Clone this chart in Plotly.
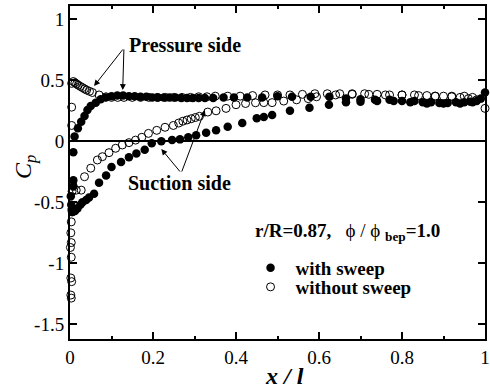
import plotly.graph_objects as go

# with sweep, pressure side (filled)
x_ws_p = [0.008, 0.011, 0.019, 0.027, 0.035, 0.042, 0.05, 0.062, 0.074, 0.086, 0.1, 0.114, 0.128,
          0.142, 0.156, 0.17, 0.184, 0.198, 0.212, 0.226, 0.24, 0.254, 0.268, 0.282, 0.296, 0.31,
          0.325, 0.345, 0.37, 0.395, 0.427, 0.463, 0.5, 0.535, 0.58, 0.625, 0.665, 0.7, 0.735,
          0.77, 0.8, 0.83, 0.85, 0.87, 0.89, 0.91, 0.93, 0.95, 0.965, 0.98, 0.99, 1.0]
y_ws_p = [-0.09, 0.04, 0.107, 0.16, 0.207, 0.256, 0.29, 0.316, 0.344, 0.36, 0.37, 0.375, 0.375,
          0.37, 0.37, 0.365, 0.365, 0.36, 0.36, 0.36, 0.36, 0.36, 0.355, 0.355, 0.355, 0.355,
          0.355, 0.355, 0.36, 0.36, 0.36, 0.36, 0.37, 0.365, 0.365, 0.365, 0.35, 0.345, 0.34,
          0.34, 0.33, 0.33, 0.32, 0.32, 0.315, 0.315, 0.32, 0.32, 0.325, 0.33, 0.35, 0.40]

# with sweep, suction side (filled)
x_ws_s = [0.008, 0.008, 0.002, 0.003, 0.004, 0.005, 0.006, 0.008, 0.012, 0.018, 0.025, 0.03,
          0.039, 0.046, 0.058, 0.07, 0.087, 0.1, 0.123, 0.142, 0.16, 0.18, 0.197, 0.22, 0.246,
          0.265, 0.285, 0.304, 0.328, 0.352, 0.38, 0.415, 0.45, 0.467, 0.487, 0.53, 0.577, 0.624,
          0.665, 0.70, 0.74, 0.78, 0.82, 0.86, 0.9, 0.94, 0.97]
y_ws_s = [-0.32, -0.37, -0.45, -0.52, -0.56, -0.58, -0.58, -0.57, -0.57, -0.55, -0.52, -0.5,
          -0.48, -0.46, -0.43, -0.34, -0.28, -0.21, -0.17, -0.13, -0.10, -0.07, -0.016, 0.0, 0.01,
          0.016, 0.033, 0.05, 0.07, 0.09, 0.12, 0.15, 0.19, 0.2, 0.215, 0.25, 0.275, 0.30,
          0.32, 0.325, 0.33, 0.33, 0.32, 0.31, 0.31, 0.31, 0.32]

# without sweep, pressure side (open)
x_wo_p = [0.004, 0.004, 0.004, 0.008, 0.012, 0.016, 0.02, 0.025, 0.03, 0.035, 0.04, 0.047, 0.054,
          0.07, 0.087, 0.1, 0.115, 0.13, 0.15, 0.17, 0.19, 0.21, 0.23, 0.25, 0.27, 0.29, 0.31,
          0.33, 0.35, 0.38, 0.41, 0.44, 0.47, 0.5, 0.53, 0.56, 0.59, 0.62, 0.65, 0.68, 0.71,
          0.74, 0.77, 0.8, 0.83, 0.86, 0.88, 0.9, 0.92, 0.94, 0.96, 0.98, 1.0]
y_wo_p = [0.13, 0.28, 0.475, 0.49, 0.48, 0.47, 0.46, 0.45, 0.44, 0.43, 0.42, 0.41, 0.40,
          0.38, 0.365, 0.36, 0.36, 0.36, 0.36, 0.36, 0.36, 0.36, 0.36, 0.36, 0.36, 0.36, 0.365,
          0.365, 0.37, 0.37, 0.37, 0.375, 0.38, 0.38, 0.38, 0.385, 0.39, 0.39, 0.39, 0.39, 0.39,
          0.385, 0.38, 0.38, 0.38, 0.375, 0.37, 0.37, 0.365, 0.36, 0.35, 0.34, 0.27]

# without sweep, suction side (open)
x_wo_s = [0.003, 0.002, 0.004, 0.002, 0.003, 0.001, 0.003, 0.002, 0.003, 0.005, 0.007, 0.015,
          0.027, 0.035, 0.05, 0.066, 0.078, 0.094, 0.11, 0.126, 0.142, 0.158, 0.173, 0.189,
          0.209, 0.229, 0.249, 0.262, 0.272, 0.282, 0.292, 0.302, 0.312, 0.332, 0.352, 0.376,
          0.40, 0.423, 0.447, 0.467, 0.487, 0.515, 0.546, 0.574, 0.594, 0.64, 0.68, 0.72,
          0.76, 0.80, 0.84, 0.88, 0.92, 0.95, 0.97]
y_wo_s = [-1.285, -1.26, -1.15, -1.12, -0.95, -0.87, -0.83, -0.75, -0.66, -0.41, -0.36, -0.40,
          -0.40, -0.29, -0.22, -0.153, -0.126, -0.093, -0.057, -0.03, -0.011, 0.01, 0.033, 0.065,
          0.09, 0.115, 0.13, 0.15, 0.165, 0.175, 0.185, 0.195, 0.205, 0.24, 0.25, 0.27,
          0.30, 0.31, 0.316, 0.317, 0.317, 0.33, 0.34, 0.35, 0.365, 0.38, 0.385, 0.385,
          0.38, 0.38, 0.375, 0.37, 0.37, 0.37, 0.36]

x_ticks = [0, 0.2, 0.4, 0.6, 0.8, 1.0]
x_ticktext = ["0", "0.2", "0.4", "0.6", "0.8", "1"]
y_ticks = [-1.5, -1, -0.5, 0, 0.5, 1]
y_ticktext = ["-1.5", "-1", "-0.5", "0", "0.5", "1"]

SERIF = "Liberation Serif, Times New Roman, serif"

fig = go.Figure()
filled = dict(symbol="circle", size=8.5, color="black")
opened = dict(symbol="circle-open", size=8, color="black", line=dict(width=1, color="black"))

fig.add_trace(go.Scatter(x=x_ws_p, y=y_ws_p, mode="markers", marker=filled,
                         name="<b>with sweep</b>", legend="legend", cliponaxis=False))
fig.add_trace(go.Scatter(x=x_ws_s, y=y_ws_s, mode="markers", marker=filled,
                         showlegend=False, cliponaxis=False))
fig.add_trace(go.Scatter(x=x_wo_p, y=y_wo_p, mode="markers", marker=opened,
                         name="<b>without sweep</b>", legend="legend2", cliponaxis=False))
fig.add_trace(go.Scatter(x=x_wo_s, y=y_wo_s, mode="markers", marker=opened,
                         showlegend=False, cliponaxis=False))

axis_common = dict(showline=True, linecolor="black", linewidth=2, mirror="allticks",
                   ticks="inside", ticklen=7, tickwidth=1.5, tickcolor="black",
                   showgrid=False, tickfont=dict(family=SERIF, size=19, color="black"))

fig.update_xaxes(range=[0, 1.0], tickvals=x_ticks, ticktext=x_ticktext,
                 ticklabeloverflow="allow",
                 minor=dict(dtick=0.1, ticks="inside", ticklen=3, tickwidth=1.5, tickcolor="black"),
                 zeroline=False, **axis_common)
fig.update_yaxes(range=[-1.62, 1.109], tickvals=y_ticks, ticktext=y_ticktext,
                 zeroline=True, zerolinecolor="black", zerolinewidth=1.5, **axis_common)

arrow = dict(showarrow=True, arrowhead=2, arrowsize=1.2, arrowwidth=1, arrowcolor="black",
             axref="x", ayref="y", xref="x", yref="y", text="")
annotations = [
    dict(x=0.058, y=0.453, ax=0.13, ay=0.765, **arrow),
    dict(x=0.127, y=0.42, ax=0.13, ay=0.765, **arrow),
    dict(x=0.22, y=-0.063, ax=0.268, ay=-0.26, **arrow),
    dict(x=0.325, y=0.256, ax=0.268, ay=-0.26, **arrow),
    dict(x=0.277, y=0.79, xref="x", yref="y", showarrow=False, text="<b>Pressure side</b>",
         font=dict(family=SERIF, size=20, color="black")),
    dict(x=0.265, y=-0.342, xref="x", yref="y", showarrow=False, text="<b>Suction side</b>",
         font=dict(family=SERIF, size=20, color="black")),
    dict(x=0.668, y=-0.745, xref="x", yref="y", showarrow=False,
         text="<b>r/R=0.87,</b>   ϕ / ϕ <sub><b>bep</b></sub><b>=1.0</b>",
         font=dict(family=SERIF, size=19, color="black")),
    dict(x=0.516, y=-0.11, xref="paper", yref="paper", showarrow=False,
         xanchor="center", yanchor="middle",
         text="<b><i>x / l</i></b>", font=dict(family=SERIF, size=24, color="black")),
    dict(x=-0.108, y=0.517, xref="paper", yref="paper", showarrow=False, textangle=-90,
         xanchor="center", yanchor="middle",
         text="<i>C<sub>p</sub></i>", font=dict(family=SERIF, size=24, color="black")),
]

legend_common = dict(xanchor="left", yanchor="middle", bgcolor="rgba(0,0,0,0)",
                     font=dict(family=SERIF, size=19, color="black"), itemwidth=40)
fig.update_layout(
    width=490, height=389,
    margin=dict(l=70, r=0, t=6, b=50),
    plot_bgcolor="white", paper_bgcolor="white",
    annotations=annotations,
    showlegend=True,
    legend=dict(x=0.423, y=(339 - 268) / 333, **legend_common),
    legend2=dict(x=0.423, y=(339 - 287) / 333, **legend_common),
)

fig.write_html("out.html")
